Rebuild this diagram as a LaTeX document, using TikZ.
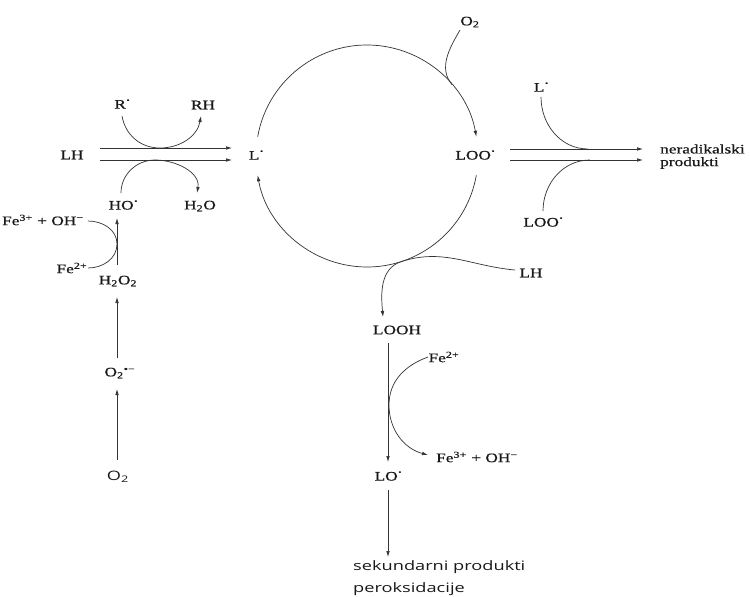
\documentclass[tikz,border=0pt]{standalone}
\usepackage{fontspec}
\setmainfont{Liberation Serif}[FakeBold=0.5]
\setsansfont{Open Sans}
\usetikzlibrary{arrows.meta}
\newcommand\sx[1]{\scalebox{1.33}[1]{#1}}
\newcommand\sxs[1]{\scalebox{1.4}[1]{#1}}
\newcommand\rad{\kern0.5pt\raisebox{1.05ex}{\scalebox{0.5}{\textbullet}}}
\begin{document}
\begin{tikzpicture}[x=1pt,y=-1pt,
  lab/.style={inner sep=0pt, font=\fontsize{13}{15}\selectfont, text=black!90},
  slab/.style={inner sep=0pt, font=\sffamily\fontsize{13}{15}\selectfont, text=black!90},
  ln/.style={draw=black!80, line width=0.7pt},
  arr/.style={ln, -{Latex[length=6pt,width=3.6pt]}}
]
\useasboundingbox[fill=white] (0,0) rectangle (751,596);
% nodes
\node[lab] (lh) at (72,155) {\sx{LH}};
\node[lab] (r) at (122,104) {\sx{R\rad}};
\node[lab] (rh) at (203,105) {\sx{RH}};
\node[lab] (ho) at (123,205) {\sx{HO\rad}};
\node[lab] (h2o) at (200,206) {\sx{H\textsubscript{2}O}};
\node[lab] (l) at (256,155) {\sx{L\rad}};
\node[lab] (loo) at (475,155) {\sx{LOO\rad}};
\node[lab] (o2t) at (470,22) {\sx{O\textsubscript{2}}};
\node[lab] (l2) at (541,87) {\sx{L\rad}};
\node[lab] (loo2) at (543,222) {\sx{LOO\rad}};
\node[lab, anchor=west] (ner) at (660,149) {\sx{neradikalski}};
\node[lab, anchor=west] (prod) at (660,163) {\sx{produkti}};
\node[lab] (lh2) at (531,273) {\sx{LH}};
\node[lab] (looh) at (397,330) {\sx{LOOH}};
\node[lab] (fe2b) at (444,357) {\sx{Fe\textsuperscript{2+}}};
\node[lab, anchor=west] (fe3b) at (436,457) {\sx{Fe\textsuperscript{3+} + OH\textsuperscript{−}}};
\node[lab] (lo) at (388,476) {\sx{LO\rad}};
\node[slab, anchor=west] (sek) at (353,567) {\sxs{sekundarni produkti}};
\node[slab, anchor=west] (per) at (353,589) {\sxs{peroksidacije}};
\node[lab] (fe3a) at (43,220) {\sx{Fe\textsuperscript{3+} + OH\textsuperscript{−}}};
\node[lab] (fe2a) at (72,268) {\sx{Fe\textsuperscript{2+}}};
\node[lab] (h2o2) at (118,281) {\sx{H\textsubscript{2}O\textsubscript{2}}};
\node[lab] (o2r) at (120,373) {\sx{O\textsubscript{2}\textsuperscript{•−}}};
\node[slab] (o2b) at (118,477) {\sxs{O\textsubscript{2}}};
% helper coordinates
\coordinate (c) at (367,156);
\coordinate (t1) at (160,148);
\coordinate (t2) at (155,160);
\coordinate (t3) at (588,149);
\coordinate (t4) at (590,160);
\coordinate (t5) at (117,244);
\coordinate (t6) at (389,405);
\coordinate (m1) at ([shift={(40:111pt)}]c);
\coordinate (m2) at ([shift={(-72:111pt)}]c);
% LH -> L
\draw[arr] ([xshift=28pt,yshift=7pt]lh.center) -- ([xshift=-24pt,yshift=7pt]l.center);
\draw[arr] ([xshift=28pt,yshift=-5pt]lh.center) -- ([xshift=-24pt,yshift=-5pt]l.center);
\draw[arr] ([yshift=-12pt]r.center) to[out=-80,in=180] (t1) to[out=0,in=-100] ([xshift=-2pt,yshift=-11pt]rh.center);
\draw[arr] ([xshift=-2pt,yshift=12pt]ho.center) to[out=90,in=180] (t2) to[out=0,in=80] ([xshift=-3pt,yshift=13pt]h2o.center);
% cycle
\draw[arr] ([shift={(170:111pt)}]c) arc[start angle=170,end angle=10,radius=111pt];
\draw[arr] ([shift={(-10:111pt)}]c) arc[start angle=-10,end angle=-170,radius=111pt];
\draw[ln] ([xshift=-10pt,yshift=-8pt]o2t.center) to[out=-120,in=130] (m1);
% LOO -> products
\draw[arr] ([xshift=35pt,yshift=6pt]loo.center) -- ([xshift=-17pt]ner.west);
\draw[arr] ([xshift=35pt,yshift=-5pt]loo.center) -- ([xshift=-17pt,yshift=-11pt]ner.west);
\draw[ln] ([yshift=-10pt]l2.center) to[out=-90,in=180] (t3);
\draw[ln] ([yshift=11pt]loo2.center) to[out=90,in=180] (t4);
% LH -> LOOH
\draw[arr] ([xshift=-16pt,yshift=3pt]lh2.center) to[out=175,in=18] (m2) to[out=-162,in=95] ([xshift=-14pt,yshift=13pt]looh.center);
% LOOH -> LO -> products
\draw[arr] ([xshift=-9pt,yshift=-13pt]looh.center) -- ([yshift=14pt]lo.center);
\draw[arr] ([yshift=-14pt]lo.center) -- ([xshift=35pt,yshift=10pt]sek.west);
\draw[arr] ([xshift=-16pt]fe2b.center) to[out=200,in=90] (t6) to[out=-90,in=165] ([xshift=-8pt,yshift=2pt]fe3b.west);
% left column
\draw[ln] ([xshift=45pt,yshift=-1pt]fe3a.center) to[out=0,in=90] (t5) to[out=-90,in=0] ([xshift=16pt]fe2a.center);
\draw[arr] ([xshift=-1pt,yshift=16pt]h2o2.center) -- ([xshift=-6pt,yshift=-13pt]ho.center);
\draw[arr] ([xshift=-3pt,yshift=15pt]o2r.center) -- ([xshift=-1pt,yshift=-16pt]h2o2.center);
\draw[arr] ([xshift=-1pt,yshift=17pt]o2b.center) -- ([xshift=-3pt,yshift=-16pt]o2r.center);
\end{tikzpicture}
\end{document}
